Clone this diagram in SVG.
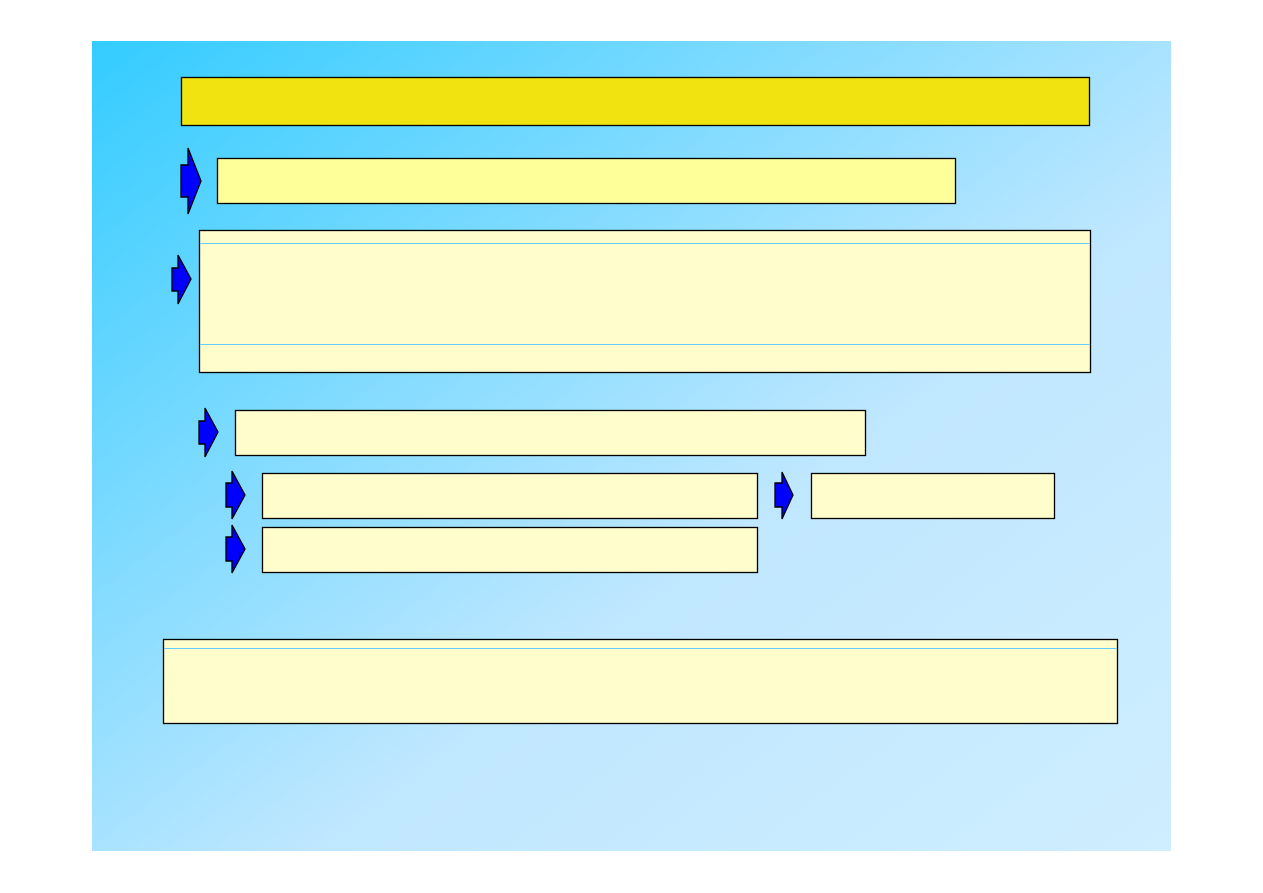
<svg xmlns="http://www.w3.org/2000/svg" width="1263" height="893" viewBox="0 0 1263 893">
<defs>
<linearGradient id="bg" x1="0" y1="0" x2="1" y2="1">
<stop offset="0" stop-color="#33CCFF"/>
<stop offset="0.6" stop-color="#BFE7FF"/>
<stop offset="1" stop-color="#CFEEFF"/>
</linearGradient>
<style>
.box{fill:#FFFDCC;stroke:#000;stroke-width:1.3}
.arr{fill:#0000FF;stroke:#000;stroke-width:1.3;stroke-linejoin:miter}
.sep{stroke:#66CCFF;stroke-width:1}
</style>
</defs>
<rect x="0" y="0" width="1263" height="893" fill="#fff"/>
<rect x="92" y="41" width="1079" height="810" fill="url(#bg)"/>
<g id="title"><rect x="181.5" y="77.5" width="908" height="48" fill="#F0E310" stroke="#000" stroke-width="1.3"/></g>
<g id="arrow1"><polygon class="arr" points="181,165 188,165 188,148 201,181 188,214 188,197 181,197"/></g>
<g id="box2"><rect x="217.5" y="158.5" width="738" height="45" fill="#FFFF99" stroke="#000" stroke-width="1.3"/></g>
<g id="arrow2"><polygon class="arr" points="172,268 178,268 178,255 191,279 178,304 178,291 172,291"/></g>
<g id="box3"><rect class="box" x="199.5" y="230.5" width="891" height="142"/><line class="sep" x1="200" y1="243.5" x2="1090" y2="243.5"/><line class="sep" x1="200" y1="344.5" x2="1090" y2="344.5"/></g>
<g id="arrow3"><polygon class="arr" points="199,421 205,421 205,408 218,432 205,457 205,444 199,444"/></g>
<g id="box4"><rect class="box" x="235.5" y="410.5" width="630" height="45"/></g>
<g id="arrow4"><polygon class="arr" points="226,483 232,483 232,471 245,495 232,519 232,507 226,507"/></g>
<g id="box5"><rect class="box" x="262.5" y="473.5" width="495" height="45"/></g>
<g id="arrow6"><polygon class="arr" points="775,483 782,483 782,472 793,495 782,519 782,507 775,507"/></g>
<g id="box6"><rect class="box" x="811.5" y="473.5" width="243" height="45"/></g>
<g id="arrow5"><polygon class="arr" points="226,537 232,537 232,525 245,549 232,573 232,561 226,561"/></g>
<g id="box7"><rect class="box" x="262.5" y="527.5" width="495" height="45"/></g>
<g id="box8"><rect class="box" x="163.5" y="639.5" width="954" height="84"/><line class="sep" x1="164" y1="648.5" x2="1117" y2="648.5"/></g>
<g id="connectors"></g>
</svg>
